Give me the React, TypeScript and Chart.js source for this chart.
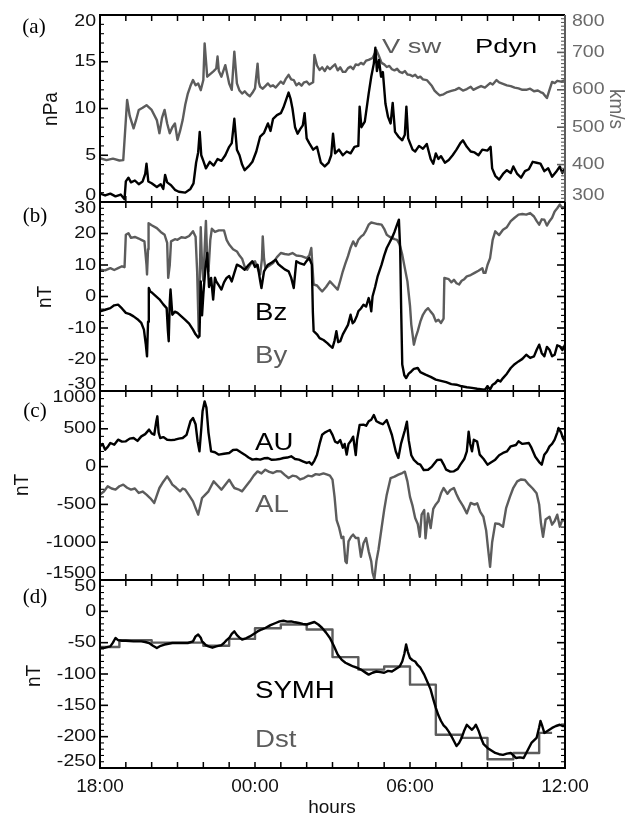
import { useEffect, useRef } from 'react';
import { Chart, registerables } from 'chart.js';

Chart.register(...registerables);

const W = 631;
const H = 816;
const PLOT_LEFT = 100;
const PLOT_RIGHT = 565;
const BLACK = '#000000';
const GRAY = '#5c5c5c';
const SANS = '"Liberation Sans", Arial, Helvetica, sans-serif';
const SERIF = '"Liberation Serif", "Times New Roman", serif';
const LINE_WIDTH = 2.4;

type Pt = [number, number];

// (a) solar wind dynamic pressure [nPa] and speed [km/s]; x = hours after 18:00
const pdyn: Pt[] = [
  [0, 0.9], [0.2, 0.7], [0.4, 0.9], [0.6, 0.6], [0.8, 0.8], [0.95, 0.3], [1.0, 2.2], [1.1, 2.6], [1.2, 2.1],
  [1.35, 2.3], [1.5, 1.9], [1.65, 2.2], [1.75, 3.0], [1.8, 4.1], [1.87, 2.2], [2.0, 2.0], [2.2, 1.6], [2.35, 1.9],
  [2.45, 1.4], [2.52, 2.9], [2.6, 2.1], [2.75, 1.8], [2.9, 1.3], [3.05, 1.1], [3.3, 1.0], [3.5, 1.4], [3.62, 2.0],
  [3.72, 4.2], [3.8, 5.3], [3.86, 7.5], [3.92, 5.0], [4.0, 4.4], [4.1, 3.6], [4.25, 4.3], [4.4, 3.9], [4.55, 4.6],
  [4.7, 4.4], [4.85, 5.0], [5.0, 5.9], [5.1, 6.3], [5.2, 8.9], [5.3, 5.6], [5.4, 5.0], [5.5, 4.0], [5.6, 3.4],
  [5.75, 3.8], [5.9, 4.3], [6.05, 5.4], [6.2, 7.0], [6.35, 7.4], [6.5, 8.4], [6.6, 7.6], [6.7, 8.9], [6.85, 9.3],
  [7.0, 9.5], [7.1, 10.1], [7.2, 10.9], [7.3, 11.7], [7.38, 11.0], [7.45, 10.0], [7.55, 8.0], [7.65, 7.3],
  [7.75, 7.8], [7.85, 8.2], [7.92, 9.5], [8.0, 6.8], [8.1, 6.3], [8.25, 5.6], [8.4, 5.9], [8.55, 4.2], [8.7, 3.8],
  [8.85, 4.2], [8.95, 5.0], [9.02, 7.3], [9.1, 5.2], [9.25, 5.6], [9.4, 5.0], [9.55, 5.4], [9.7, 5.2], [9.85, 5.9],
  [10.0, 6.0], [10.05, 10.2], [10.12, 8.0], [10.25, 8.6], [10.4, 11.6], [10.5, 13.4], [10.6, 14.8], [10.66, 16.5],
  [10.72, 14.0], [10.8, 15.2], [10.88, 13.4], [10.95, 13.9], [11.05, 10.5], [11.15, 9.1], [11.25, 8.4],
  [11.33, 10.6], [11.42, 7.5], [11.55, 7.0], [11.7, 6.6], [11.8, 7.2], [11.86, 10.2], [11.93, 6.8], [12.0, 6.3],
  [12.1, 5.6], [12.2, 5.4], [12.35, 6.0], [12.5, 5.7], [12.65, 6.2], [12.8, 4.6], [12.9, 4.1], [13.0, 5.2],
  [13.1, 4.6], [13.2, 4.9], [13.35, 4.2], [13.5, 4.5], [13.65, 5.0], [13.8, 5.6], [13.95, 6.3], [14.05, 6.6],
  [14.2, 5.9], [14.35, 5.4], [14.5, 5.3], [14.65, 5.0], [14.8, 5.6], [15.0, 5.5], [15.12, 5.9], [15.18, 3.6],
  [15.3, 2.8], [15.45, 2.4], [15.6, 3.0], [15.75, 3.4], [15.9, 3.1], [16.0, 3.8], [16.15, 3.0], [16.3, 2.6],
  [16.45, 3.3], [16.6, 3.5], [16.75, 4.3], [16.9, 4.2], [17.05, 4.1], [17.2, 3.3], [17.35, 3.6], [17.5, 2.7],
  [17.65, 3.2], [17.8, 3.8], [17.9, 3.1], [18, 3.6],
];

const vsw: Pt[] = [
  [0, 417], [0.25, 412], [0.5, 416], [0.75, 411], [0.9, 412], [1.0, 519], [1.05, 573], [1.15, 530], [1.3, 497],
  [1.4, 520], [1.5, 546], [1.65, 552], [1.8, 559], [2.0, 546], [2.2, 519], [2.3, 484], [2.4, 525], [2.5, 546],
  [2.6, 510], [2.7, 484], [2.8, 500], [2.9, 510], [3.0, 466], [3.1, 490], [3.2, 519], [3.3, 560], [3.4, 590],
  [3.5, 610], [3.6, 626], [3.7, 612], [3.8, 617], [3.9, 599], [4.0, 626], [4.05, 724], [4.15, 635], [4.3, 644],
  [4.4, 650], [4.5, 657], [4.55, 689], [4.6, 650], [4.7, 635], [4.85, 666], [5.0, 617], [5.1, 600], [5.2, 702],
  [5.3, 617], [5.4, 598], [5.5, 590], [5.6, 596], [5.7, 588], [5.8, 583], [5.9, 592], [6.0, 604], [6.1, 670],
  [6.15, 620], [6.2, 608], [6.3, 603], [6.4, 610], [6.5, 617], [6.6, 609], [6.7, 612], [6.8, 606], [6.9, 614],
  [7.0, 622], [7.1, 616], [7.2, 630], [7.3, 640], [7.4, 628], [7.5, 626], [7.6, 612], [7.7, 618], [7.8, 611],
  [7.9, 620], [8.0, 622], [8.1, 614], [8.25, 620], [8.3, 693], [8.4, 665], [8.5, 653], [8.6, 660], [8.7, 650],
  [8.8, 662], [8.9, 655], [9.0, 662], [9.1, 668], [9.2, 652], [9.3, 660], [9.4, 648], [9.5, 648], [9.6, 658],
  [9.7, 662], [9.8, 655], [9.9, 668], [10.0, 666], [10.1, 672], [10.2, 668], [10.3, 678], [10.4, 680],
  [10.55, 685], [10.7, 706], [10.8, 690], [10.9, 672], [11.0, 668], [11.1, 661], [11.2, 664], [11.3, 655],
  [11.4, 652], [11.5, 656], [11.6, 648], [11.7, 645], [11.8, 650], [11.9, 641], [12.0, 640], [12.1, 636],
  [12.2, 640], [12.3, 632], [12.4, 635], [12.5, 628], [12.65, 626], [12.75, 618], [12.85, 610], [12.95, 598],
  [13.05, 591], [13.15, 585], [13.3, 588], [13.45, 594], [13.6, 597], [13.75, 600], [13.9, 605], [14.05, 598],
  [14.2, 602], [14.35, 608], [14.45, 600], [14.6, 605], [14.75, 610], [14.9, 606], [15.0, 612], [15.1, 618],
  [15.2, 614], [15.35, 626], [15.45, 620], [15.6, 616], [15.75, 612], [15.9, 610], [16.05, 606], [16.2, 604],
  [16.35, 600], [16.5, 600], [16.65, 603], [16.8, 596], [16.95, 598], [17.05, 594], [17.15, 591], [17.25, 582],
  [17.3, 578], [17.4, 600], [17.5, 621], [17.6, 618], [17.7, 624], [17.85, 622], [18, 626],
];

// (b) IMF components [nT]
const bz: Pt[] = [
  [0, -4.7], [0.2, -4.2], [0.4, -3.7], [0.55, -2.8], [0.7, -2.6], [0.85, -3.8], [1.0, -5.2], [1.15, -5.6],
  [1.3, -6.3], [1.45, -7.2], [1.6, -8.4], [1.7, -10.5], [1.77, -15], [1.82, -19], [1.86, -8], [1.89, 2.7],
  [1.95, 1.5], [2.0, 1.3], [2.15, 0.2], [2.3, -0.9], [2.45, -2.5], [2.58, -3.7], [2.63, -11], [2.66, -14.2],
  [2.7, -2], [2.73, 2.2], [2.8, -5.8], [2.9, -4.8], [3.0, -5.2], [3.15, -6.3], [3.3, -7.4], [3.45, -8.6],
  [3.6, -10.5], [3.7, -12], [3.8, -13], [3.85, -12.6], [3.9, 4.8], [3.95, -6], [4.0, 0.6], [4.08, 9], [4.15, 13.8],
  [4.22, 3], [4.3, 5.9], [4.38, -1], [4.45, 6], [4.5, 4.8], [4.6, 3.5], [4.7, 2.2], [4.8, 4.5], [4.9, 5.9],
  [5.0, 6.5], [5.1, 4.8], [5.2, 7.5], [5.3, 10.1], [5.45, 9.5], [5.6, 8.5], [5.75, 10], [5.9, 11.2], [6.0, 9.4],
  [6.1, 10.1], [6.2, 5], [6.25, 2.7], [6.35, 8], [6.5, 10.1], [6.65, 10.8], [6.8, 11.7], [6.9, 10.3], [7.0, 9.6],
  [7.15, 8.6], [7.3, 8], [7.4, 6], [7.5, 2.7], [7.55, 7], [7.6, 11.2], [7.75, 10.5], [7.9, 10.1], [8.0, 11.3],
  [8.1, 12.2], [8.2, 10.1], [8.24, -5], [8.27, -11], [8.4, -12], [8.5, -13.2], [8.65, -13.8], [8.8, -14.8],
  [8.9, -15.6], [9.0, -16.3], [9.08, -14], [9.15, -11], [9.22, -14.5], [9.3, -14.2], [9.4, -12], [9.5, -10.5],
  [9.6, -9], [9.7, -5.8], [9.78, -8.5], [9.85, -7.9], [9.95, -6], [10.0, -4.7], [10.1, -3.8], [10.2, -2.6],
  [10.3, -3.2], [10.4, -0.5], [10.45, -2], [10.5, -4.7], [10.55, 0], [10.65, 3], [10.75, 6.5], [10.9, 10.1],
  [11.0, 13], [11.1, 15.4], [11.2, 17], [11.3, 18.6], [11.4, 20.5], [11.5, 22.8], [11.57, 24.4], [11.62, 15],
  [11.66, -5], [11.7, -21.6], [11.78, -25], [11.85, -25.9], [11.95, -24.5], [12.05, -23.8], [12.15, -23],
  [12.3, -22.7], [12.4, -24], [12.6, -24.8], [12.8, -25.5], [13.0, -26.4], [13.2, -26.8], [13.4, -27.2],
  [13.6, -27.8], [13.8, -28], [14.0, -28.5], [14.2, -28.8], [14.4, -29], [14.6, -29.3], [14.8, -29.5],
  [14.9, -29.6], [15.0, -28.5], [15.1, -29.5], [15.2, -28], [15.3, -27.5], [15.4, -26.5], [15.5, -27],
  [15.6, -25.9], [15.75, -24.5], [15.9, -22.7], [16.05, -21.5], [16.2, -20.6], [16.35, -19.8], [16.5, -18.5],
  [16.65, -19.5], [16.8, -19], [16.9, -17], [17.0, -15.3], [17.1, -18], [17.2, -19], [17.3, -16], [17.4, -16.9],
  [17.5, -19], [17.6, -18.5], [17.7, -15.5], [17.8, -15.8], [17.9, -17], [18, -15.3],
];

const by: Pt[] = [
  [0, 8.5], [0.2, 8.3], [0.4, 9], [0.55, 8.4], [0.7, 9.0], [0.85, 9.6], [0.95, 9.3], [1.0, 19.6], [1.1, 20.1],
  [1.2, 18.6], [1.35, 18.9], [1.5, 18.4], [1.6, 18], [1.72, 17.5], [1.8, 10], [1.82, 7], [1.86, 15], [1.88, 23.3],
  [2.0, 22.6], [2.2, 21.7], [2.35, 20.5], [2.5, 19.6], [2.6, 17], [2.64, 5.9], [2.7, 10], [2.75, 17.5],
  [2.9, 18.2], [3.0, 18], [3.15, 18.8], [3.3, 18.6], [3.45, 19.2], [3.6, 20.7], [3.7, 19], [3.76, 8], [3.82, -11],
  [3.86, 5], [3.9, 22], [3.95, 10], [4.0, 5], [4.05, 15], [4.1, 24], [4.15, 12], [4.2, 8], [4.27, 18],
  [4.33, 21.5], [4.45, 20.5], [4.6, 21], [4.8, 21], [4.9, 18], [5.0, 16.5], [5.15, 15], [5.3, 14.3], [5.4, 13],
  [5.5, 12], [5.6, 9.5], [5.7, 8.5], [5.85, 10.5], [6.0, 11.2], [6.1, 9], [6.2, 7], [6.27, 12], [6.3, 19.1],
  [6.35, 12], [6.4, 9], [6.55, 9.8], [6.7, 10.6], [6.85, 12.5], [7.0, 13.8], [7.15, 13.5], [7.3, 13.3],
  [7.45, 13.8], [7.6, 13], [7.8, 12.8], [8.0, 12.2], [8.1, 13], [8.18, 15.4], [8.22, 10], [8.27, 3.8],
  [8.4, 3.5], [8.5, 2.5], [8.6, 1.6], [8.75, 3], [8.9, 4.8], [9.05, 3.5], [9.2, 2.2], [9.3, 5], [9.4, 8],
  [9.5, 10.5], [9.6, 12.8], [9.7, 15.5], [9.8, 17.5], [9.9, 16], [10.0, 18], [10.1, 19], [10.2, 19.6], [10.3, 21],
  [10.4, 22.8], [10.5, 23.5], [10.6, 23.3], [10.75, 23], [10.9, 22.8], [11.0, 21.5], [11.1, 19.6], [11.2, 19],
  [11.3, 18.6], [11.4, 18.2], [11.5, 18], [11.6, 16.5], [11.7, 13.3], [11.8, 9], [11.9, 4.8], [12.0, -3],
  [12.05, -8.9], [12.1, -12], [12.15, -15.3], [12.22, -13], [12.3, -11], [12.4, -8], [12.5, -5.8], [12.6, -4.5],
  [12.7, -3.7], [12.8, -4.8], [12.9, -5.8], [13.0, -7.9], [13.1, -7.4], [13.2, -8.4], [13.3, -7], [13.33, 5.9],
  [13.5, 5.5], [13.6, 4.5], [13.7, 5.3], [13.8, 4.2], [13.9, 3.8], [14.0, 5], [14.1, 5.5], [14.2, 6.4],
  [14.35, 6.8], [14.5, 7.5], [14.65, 8.2], [14.8, 9.0], [14.85, 7.5], [14.92, 7.5], [15.0, 10], [15.1, 12.2],
  [15.2, 18], [15.3, 20.7], [15.45, 19.5], [15.6, 21.2], [15.75, 22], [15.9, 23.9], [16.05, 25], [16.2, 26],
  [16.35, 26.2], [16.5, 26], [16.65, 26.5], [16.8, 25.4], [16.9, 24], [17.0, 22.8], [17.1, 24.5], [17.2, 24.4],
  [17.3, 22.5], [17.4, 23.9], [17.5, 25], [17.6, 27], [17.7, 28], [17.8, 29.2], [17.9, 28], [18, 28.6],
];

// (c) auroral electrojet indices [nT]
const au: Pt[] = [
  [0, 268], [0.1, 300], [0.2, 224], [0.3, 260], [0.4, 312], [0.55, 290], [0.7, 356], [0.85, 330], [1.0, 334],
  [1.15, 370], [1.3, 378], [1.45, 340], [1.6, 400], [1.75, 430], [1.9, 489], [2.0, 440], [2.1, 422], [2.18, 600],
  [2.22, 665], [2.27, 450], [2.33, 378], [2.45, 390], [2.6, 356], [2.75, 350], [2.9, 356], [3.05, 370],
  [3.2, 378], [3.35, 420], [3.5, 599], [3.6, 643], [3.7, 560], [3.78, 330], [3.85, 202], [3.92, 500], [3.97, 731],
  [4.05, 863], [4.12, 780], [4.2, 450], [4.3, 202], [4.45, 190], [4.6, 158], [4.8, 170], [5.0, 180], [5.15, 220],
  [5.3, 224], [5.45, 190], [5.6, 158], [5.75, 120], [5.9, 92], [6.05, 100], [6.2, 92], [6.35, 110], [6.5, 114],
  [6.65, 90], [6.8, 92], [6.95, 100], [7.1, 114], [7.25, 120], [7.4, 136], [7.55, 100], [7.7, 92], [7.85, 70],
  [8.0, 48], [8.1, 60], [8.2, 26], [8.3, 80], [8.4, 158], [8.5, 300], [8.6, 422], [8.7, 450], [8.8, 467],
  [8.9, 484], [9.0, 420], [9.1, 330], [9.2, 312], [9.3, 350], [9.4, 250], [9.47, 300], [9.55, 158], [9.62, 300],
  [9.7, 334], [9.8, 396], [9.9, 153], [9.95, 350], [10.05, 550], [10.2, 555], [10.3, 540], [10.4, 599],
  [10.5, 620], [10.6, 682], [10.7, 600], [10.84, 576], [10.95, 560], [11.1, 616], [11.2, 520], [11.3, 418],
  [11.45, 200], [11.55, 114], [11.65, 300], [11.8, 480], [11.88, 594], [11.95, 350], [12.05, 150], [12.15, 88],
  [12.3, 40], [12.4, 26], [12.53, -45], [12.7, -41], [12.85, 0], [13.05, 88], [13.2, 92], [13.3, 30],
  [13.4, -41], [13.56, -67], [13.7, -63], [13.85, -30], [13.95, 26], [14.1, 100], [14.2, 202], [14.27, 462],
  [14.33, 300], [14.4, 202], [14.47, 356], [14.6, 330], [14.7, 158], [14.85, 100], [15.0, 26], [15.1, 48],
  [15.3, 92], [15.45, 150], [15.6, 180], [15.75, 200], [15.9, 268], [16.1, 286], [16.2, 334], [16.35, 300],
  [16.6, 312], [16.7, 250], [16.85, 130], [17.0, 60], [17.1, 26], [17.2, 158], [17.3, 200], [17.4, 268],
  [17.5, 300], [17.6, 356], [17.7, 450], [17.75, 511], [17.85, 450], [17.92, 378], [18, 334],
];

const al: Pt[] = [
  [0, -371], [0.15, -330], [0.3, -261], [0.45, -290], [0.6, -305], [0.75, -260], [0.9, -239], [1.05, -280],
  [1.2, -305], [1.35, -290], [1.5, -349], [1.65, -330], [1.8, -371], [1.95, -420], [2.1, -481], [2.2, -380],
  [2.3, -283], [2.45, -200], [2.6, -129], [2.7, -180], [2.8, -239], [2.95, -280], [3.1, -327], [3.2, -290],
  [3.3, -305], [3.45, -380], [3.6, -459], [3.7, -550], [3.8, -636], [3.88, -520], [3.95, -415], [4.05, -380],
  [4.2, -327], [4.3, -260], [4.4, -195], [4.55, -250], [4.7, -305], [4.85, -240], [5.0, -173], [5.1, -230],
  [5.2, -283], [5.35, -300], [5.5, -327], [5.65, -260], [5.8, -195], [5.95, -120], [6.1, -63], [6.25, -90],
  [6.4, -41], [6.55, -70], [6.7, -85], [6.85, -60], [7.0, -63], [7.15, -110], [7.3, -151], [7.45, -120],
  [7.6, -129], [7.75, -170], [7.9, -151], [8.05, -120], [8.2, -129], [8.35, -100], [8.5, -107], [8.65, -90],
  [8.8, -107], [8.9, -120], [9.0, -173], [9.08, -400], [9.16, -707], [9.25, -800], [9.35, -944], [9.42, -928],
  [9.5, -1253], [9.55, -1276], [9.62, -989], [9.72, -928], [9.8, -900], [9.9, -944], [10.0, -944], [10.1, -1192],
  [10.2, -1015], [10.3, -944], [10.4, -1121], [10.5, -1253], [10.55, -1400], [10.62, -1490], [10.7, -1250],
  [10.78, -1100], [10.9, -812], [11.0, -574], [11.1, -371], [11.25, -151], [11.4, -133], [11.55, -107],
  [11.7, -85], [11.8, -67], [11.9, -195], [12.0, -400], [12.1, -520], [12.2, -680], [12.3, -760], [12.38, -928],
  [12.45, -636], [12.55, -574], [12.6, -950], [12.7, -620], [12.8, -812], [12.9, -560], [13.0, -500],
  [13.1, -459], [13.2, -353], [13.3, -283], [13.45, -360], [13.56, -310], [13.7, -283], [13.8, -365],
  [13.9, -437], [14.05, -520], [14.2, -618], [14.35, -480], [14.5, -503], [14.6, -485], [14.72, -600],
  [14.84, -663], [14.95, -850], [15.02, -1077], [15.1, -1326], [15.18, -1000], [15.3, -751], [15.45, -760],
  [15.6, -795], [15.72, -550], [15.87, -398], [16.0, -280], [16.15, -195], [16.3, -170], [16.45, -177],
  [16.6, -239], [16.75, -290], [16.9, -353], [17.0, -500], [17.07, -750], [17.15, -928], [17.25, -700],
  [17.4, -663], [17.5, -768], [17.6, -720], [17.7, -636], [17.8, -795], [17.9, -700], [18, -724],
];

// (d) ring current indices [nT]
const symh: Pt[] = [
  [0, -58.5], [0.2, -58], [0.4, -56], [0.5, -50], [0.6, -42.6], [0.7, -46], [0.85, -47], [1.0, -47], [1.3, -48],
  [1.6, -48], [1.75, -49], [1.9, -50.5], [2.05, -55], [2.2, -58.5], [2.35, -55], [2.5, -53], [2.8, -50.5],
  [3.1, -50.5], [3.4, -50.5], [3.6, -48], [3.7, -40], [3.8, -37], [3.9, -42], [3.95, -48], [4.1, -54],
  [4.2, -56], [4.35, -58], [4.5, -56], [4.7, -54], [4.8, -50.5], [4.9, -46], [5.0, -42.6], [5.1, -36],
  [5.2, -32], [5.3, -38], [5.4, -42], [5.5, -45], [5.65, -43], [5.8, -40], [5.95, -36], [6.1, -32], [6.25, -29],
  [6.4, -26.6], [6.6, -22], [6.8, -18.6], [6.95, -16], [7.1, -15], [7.25, -16.5], [7.4, -16], [7.55, -17.5],
  [7.7, -18.6], [7.85, -20], [8.0, -21], [8.15, -19], [8.3, -17], [8.45, -21], [8.6, -26.6], [8.75, -34],
  [8.9, -42.6], [9.05, -55], [9.2, -69], [9.35, -77], [9.5, -82], [9.65, -85], [9.8, -88], [9.95, -90],
  [10.1, -93], [10.25, -97], [10.4, -101], [10.55, -98], [10.7, -96], [10.85, -97], [11.0, -98], [11.15, -95],
  [11.3, -96], [11.45, -92], [11.6, -88], [11.7, -80], [11.78, -68], [11.85, -53], [11.92, -65], [12.0, -74.5],
  [12.1, -78], [12.2, -80], [12.3, -86], [12.4, -90], [12.55, -101], [12.7, -115], [12.8, -125], [12.9, -140],
  [13.0, -154], [13.1, -166], [13.2, -175], [13.3, -182], [13.4, -186], [13.5, -192], [13.6, -199],
  [13.7, -207], [13.8, -215], [13.9, -210], [14.0, -202], [14.1, -190], [14.2, -181], [14.3, -185],
  [14.4, -189], [14.5, -184], [14.55, -181], [14.65, -190], [14.75, -202], [14.85, -212], [15.0, -218],
  [15.15, -222], [15.3, -226], [15.45, -228], [15.6, -229], [15.75, -227], [15.9, -226], [16.0, -230],
  [16.1, -234], [16.25, -233], [16.4, -234], [16.55, -222], [16.7, -210], [16.8, -206], [16.9, -202],
  [17.0, -185], [17.05, -175], [17.12, -183], [17.2, -194], [17.35, -190], [17.5, -186], [17.65, -183],
  [17.8, -181], [17.9, -183], [18, -183],
];

// hourly Dst, each value held until the next entry
const dst: Pt[] = [
  [0, -57], [0.75, -46], [2, -50], [3, -50], [4, -55], [5, -44], [6, -27], [7, -21], [8, -29], [9, -73],
  [10, -93], [11, -88], [12, -117], [13, -197], [14, -202], [15, -236], [16, -226], [17, -194], [17.5, -194],
];

interface Series {
  points: Pt[];
  color: string;
  axis?: string;
  stepped?: boolean;
}

interface AxisSpec {
  min: number;
  max: number;
  step: number;
  minor: number;
}

interface TextSpec {
  text: string;
  x: number;
  y: number;
  color: string;
  size: number;
  sx?: number;
  family?: string;
  align?: CanvasTextAlign;
  baseline?: CanvasTextBaseline;
  rotate?: number;
}

interface PanelSpec {
  top: number;
  bottom: number;
  y: AxisSpec;
  y2?: AxisSpec;
  series: Series[];
  texts: TextSpec[];
  hourLabels: boolean;
}

function drawText(ctx: CanvasRenderingContext2D, t: TextSpec) {
  ctx.save();
  ctx.translate(t.x, t.y);
  ctx.scale(t.sx ?? 1, 1);
  if (t.rotate) ctx.rotate(t.rotate);
  ctx.font = `${t.size}px ${t.family ?? SANS}`;
  ctx.fillStyle = t.color;
  ctx.textAlign = t.align ?? 'left';
  ctx.textBaseline = t.baseline ?? 'alphabetic';
  ctx.fillText(t.text, 0, 0);
  ctx.restore();
}

const TICK_FONT = 17;
const TICK_SX = 1.15;

function fmtHour(v: number) {
  const h = (18 + v) % 24;
  return `${String(h).padStart(2, '0')}:00`;
}

function makeFramePlugin(spec: PanelSpec) {
  return {
    id: 'panelFrame',
    afterDatasetsDraw(chart: Chart) {
      const { ctx, chartArea: a } = chart;
      const xs = chart.scales.x;
      const ys = chart.scales.y;
      ctx.save();

      // hourly ticks on the top and bottom edges
      ctx.strokeStyle = BLACK;
      ctx.lineWidth = 1.5;
      ctx.beginPath();
      xs.ticks.forEach((t) => {
        const px = xs.getPixelForValue(t.value);
        ctx.moveTo(px, a.top);
        ctx.lineTo(px, a.top + 6);
        ctx.moveTo(px, a.bottom);
        ctx.lineTo(px, a.bottom - 6);
      });
      ctx.stroke();

      // vertical ticks, minor and major, pointing into the plot
      const vTicks = (scale: any, ax: AxisSpec, side: 'left' | 'right', color: string) => {
        const n = Math.round((ax.max - ax.min) / ax.minor);
        ctx.strokeStyle = color;
        for (let i = 0; i <= n; i++) {
          const v = ax.min + i * ax.minor;
          const major = Math.abs(v / ax.step - Math.round(v / ax.step)) < 1e-6;
          const len = major ? 8 : 4;
          const py = scale.getPixelForValue(v);
          ctx.lineWidth = major ? 1.6 : 1.1;
          ctx.beginPath();
          if (side === 'left') {
            ctx.moveTo(a.left, py);
            ctx.lineTo(a.left + len, py);
          } else {
            ctx.moveTo(a.right, py);
            ctx.lineTo(a.right - len, py);
          }
          ctx.stroke();
        }
      };
      vTicks(ys, spec.y, 'left', BLACK);
      if (spec.y2) vTicks(chart.scales.y2, spec.y2, 'right', GRAY);
      else vTicks(ys, spec.y, 'right', BLACK);

      // frame
      ctx.lineWidth = 2;
      ctx.strokeStyle = BLACK;
      ctx.beginPath();
      ctx.moveTo(a.right, a.top);
      ctx.lineTo(a.left, a.top);
      ctx.lineTo(a.left, a.bottom);
      ctx.lineTo(a.right, a.bottom);
      if (!spec.y2) ctx.lineTo(a.right, a.top);
      ctx.stroke();
      if (spec.y2) {
        ctx.strokeStyle = GRAY;
        ctx.beginPath();
        ctx.moveTo(a.right, a.top);
        ctx.lineTo(a.right, a.bottom);
        ctx.stroke();
      }

      // tick labels, kept inside the panel's vertical extent
      const clampY = (py: number) => Math.max(a.top + 6.5, Math.min(a.bottom - 6.5, py));
      ys.ticks.forEach((t) => {
        drawText(ctx, {
          text: String(t.value),
          x: a.left - 4,
          y: clampY(ys.getPixelForValue(t.value)),
          color: '#111111',
          size: TICK_FONT,
          sx: TICK_SX,
          align: 'right',
          baseline: 'middle',
        });
      });
      if (spec.y2) {
        const s2 = chart.scales.y2;
        s2.ticks.forEach((t) => {
          drawText(ctx, {
            text: String(t.value),
            x: a.right + 7,
            y: clampY(s2.getPixelForValue(t.value)),
            color: '#6a6a6a',
            size: TICK_FONT,
            sx: TICK_SX,
            align: 'left',
            baseline: 'middle',
          });
        });
      }
      if (spec.hourLabels) {
        xs.ticks.forEach((t) => {
          if (t.value % 6 !== 0) return;
          drawText(ctx, {
            text: fmtHour(t.value),
            x: xs.getPixelForValue(t.value),
            y: a.bottom + 19,
            color: '#111111',
            size: 19,
            align: 'center',
            baseline: 'middle',
          });
        });
      }

      spec.texts.forEach((t) => drawText(ctx, t));
      ctx.restore();
    },
  };
}

const panels: PanelSpec[] = [
  {
    top: 15,
    bottom: 202,
    y: { min: 0, max: 20, step: 5, minor: 1 },
    y2: { min: 300, max: 800, step: 100, minor: 10 },
    series: [
      { points: pdyn, color: BLACK },
      { points: vsw, color: GRAY, axis: 'y2' },
    ],
    texts: [
      { text: '(a)', x: 34, y: 33, color: BLACK, size: 21, family: SERIF, align: 'center' },
      { text: 'nPa', x: 57, y: 109, color: '#111111', size: 19, sx: 1.1, align: 'center', rotate: -Math.PI / 2 },
      { text: 'km/s', x: 610, y: 109, color: '#6a6a6a', size: 19, sx: 1.1, align: 'center', rotate: Math.PI / 2 },
      { text: 'V sw', x: 382, y: 53, color: GRAY, size: 21, sx: 1.3 },
      { text: 'Pdyn', x: 475, y: 53, color: BLACK, size: 21, sx: 1.3 },
    ],
    hourLabels: false,
  },
  {
    top: 202,
    bottom: 391,
    y: { min: -30, max: 30, step: 10, minor: 2 },
    series: [
      { points: bz, color: BLACK },
      { points: by, color: GRAY },
    ],
    texts: [
      { text: '(b)', x: 35, y: 222, color: BLACK, size: 21, family: SERIF, align: 'center' },
      { text: 'nT', x: 51, y: 297, color: '#111111', size: 19, sx: 1.1, align: 'center', rotate: -Math.PI / 2 },
      { text: 'Bz', x: 255, y: 320, color: BLACK, size: 23, sx: 1.2 },
      { text: 'By', x: 255, y: 363, color: GRAY, size: 23, sx: 1.2 },
    ],
    hourLabels: false,
  },
  {
    top: 391,
    bottom: 580,
    y: { min: -1500, max: 1000, step: 500, minor: 100 },
    series: [
      { points: au, color: BLACK },
      { points: al, color: GRAY },
    ],
    texts: [
      { text: '(c)', x: 35, y: 417, color: BLACK, size: 21, family: SERIF, align: 'center' },
      { text: 'nT', x: 28, y: 485, color: '#111111', size: 19, sx: 1.1, align: 'center', rotate: -Math.PI / 2 },
      { text: 'AU', x: 255, y: 450, color: BLACK, size: 23, sx: 1.2 },
      { text: 'AL', x: 255, y: 512, color: GRAY, size: 23, sx: 1.2 },
    ],
    hourLabels: false,
  },
  {
    top: 580,
    bottom: 768,
    y: { min: -250, max: 50, step: 50, minor: 10 },
    series: [
      { points: symh, color: BLACK },
      { points: dst, color: GRAY, stepped: true },
    ],
    texts: [
      { text: '(d)', x: 35, y: 603, color: BLACK, size: 21, family: SERIF, align: 'center' },
      { text: 'nT', x: 40, y: 676, color: '#111111', size: 19, sx: 1.1, align: 'center', rotate: -Math.PI / 2 },
      { text: 'SYMH', x: 255, y: 698, color: BLACK, size: 23, sx: 1.2 },
      { text: 'Dst', x: 255, y: 747, color: GRAY, size: 23, sx: 1.2 },
      { text: 'hours', x: 332, y: 813, color: '#111111', size: 19, align: 'center' },
    ],
    hourLabels: true,
  },
];

function Panel({ spec }: { spec: PanelSpec }) {
  const ref = useRef<HTMLCanvasElement>(null);

  useEffect(() => {
    const canvas = ref.current;
    if (!canvas) return;
    const scales: any = {
      x: { type: 'linear', min: 0, max: 18, display: false, ticks: { stepSize: 1 } },
      y: { type: 'linear', min: spec.y.min, max: spec.y.max, display: false, ticks: { stepSize: spec.y.step } },
    };
    if (spec.y2) {
      scales.y2 = {
        type: 'linear',
        position: 'right',
        min: spec.y2.min,
        max: spec.y2.max,
        display: false,
        ticks: { stepSize: spec.y2.step },
      };
    }
    const chart = new Chart(canvas, {
      type: 'line',
      data: {
        datasets: spec.series.map((s) => ({
          data: s.points.map(([x, y]) => ({ x, y })),
          borderColor: s.color,
          borderWidth: LINE_WIDTH,
          borderJoinStyle: 'round',
          pointRadius: 0,
          tension: 0,
          fill: false,
          stepped: s.stepped ? 'before' : false,
          yAxisID: s.axis ?? 'y',
        })),
      },
      options: {
        responsive: false,
        animation: false,
        devicePixelRatio: 1,
        events: [],
        layout: {
          padding: { left: PLOT_LEFT, right: W - PLOT_RIGHT, top: spec.top, bottom: H - spec.bottom },
        },
        plugins: { legend: { display: false }, tooltip: { enabled: false } },
        scales,
      },
      plugins: [makeFramePlugin(spec)],
    } as any);
    return () => chart.destroy();
  }, [spec]);

  return <canvas ref={ref} width={W} height={H} style={{ position: 'absolute', left: 0, top: 0 }} />;
}

export default function App() {
  return (
    <div style={{ position: 'absolute', left: 0, top: 0, width: W, height: H, background: '#ffffff' }}>
      {panels.map((p, i) => (
        <Panel key={i} spec={p} />
      ))}
    </div>
  );
}
